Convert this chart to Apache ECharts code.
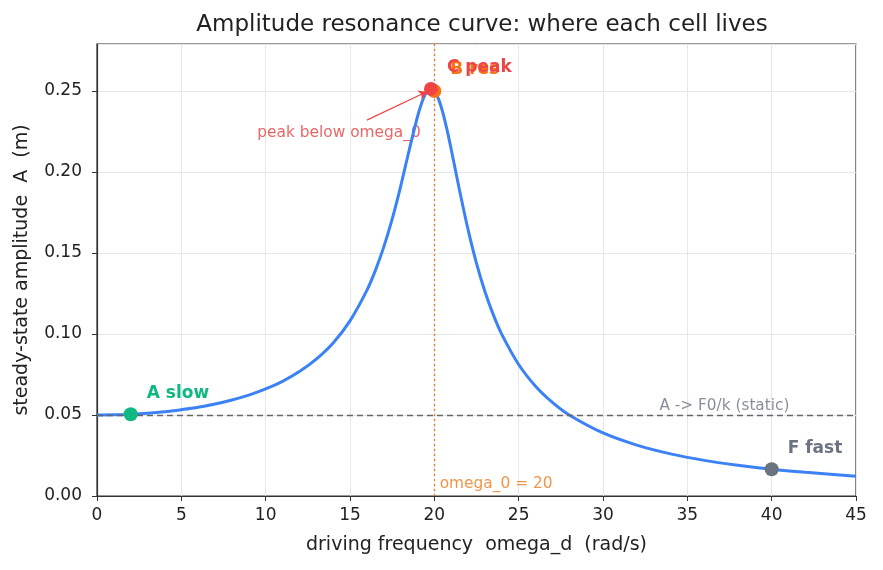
<!DOCTYPE html>
<html>
<head>
<meta charset="utf-8"/>
<title>Amplitude resonance curve</title>
<script src="https://cdn.jsdelivr.net/npm/echarts@6/dist/echarts.min.js"></script>
<style>
  html, body { margin: 0; padding: 0; background: #fff; }
  #chart { width: 883px; height: 570px; }
</style>
</head>
<body>
<div id="chart"></div>
<script>
// driving frequency (rad/s) and steady-state amplitude (m)
var omegaD = [0, 1, 2, 3, 4, 5, 6, 7, 8, 9, 10, 11, 12, 13, 14, 15, 16, 16.5, 17, 17.5, 18, 18.5, 19, 19.25, 19.5, 19.8,
              20, 20.25, 20.5, 20.75, 21, 21.5, 22, 22.5, 23, 23.5, 24, 25, 26, 27, 28, 30, 32, 34, 36, 38, 40, 42, 45];
var amp = [0.0500, 0.0501, 0.0505, 0.0511, 0.0520, 0.0533, 0.0548, 0.0568, 0.0593, 0.0623, 0.0661, 0.0708, 0.0768, 0.0845,
           0.0945, 0.1081, 0.1269, 0.1391, 0.1536, 0.1709, 0.1910, 0.2131, 0.2341, 0.2426, 0.2486, 0.2513,
           0.2500, 0.2450, 0.2368, 0.2261, 0.2140, 0.1884, 0.1644, 0.1436, 0.1262, 0.1118, 0.0998, 0.0812, 0.0678,
           0.0578, 0.0500, 0.0389, 0.0314, 0.0260, 0.0220, 0.0190, 0.0165, 0.0146, 0.0122];

// the marked cells
var cellNames = ['A slow', 'B res', 'C peak', 'F fast'];
var cellX = [2, 20, 19.8, 40];
var cellY = [0.0505, 0.25, 0.2513, 0.0165];
var cellColors = ['#10b981', '#f97316', '#ef4444', '#6b7280'];

var staticLevel = 0.05;
var omega0 = 20;

var chart = echarts.init(document.getElementById('chart'));

var curve = [];
for (var i = 0; i < omegaD.length; i++) curve.push([omegaD[i], amp[i]]);

var cells = [];
for (var j = 0; j < cellNames.length; j++) {
    cells.push({
        value: [cellX[j], cellY[j]],
        name: cellNames[j],
        itemStyle: { color: cellColors[j], opacity: 1 },
        label: { color: cellColors[j] }
    });
}

var font = 'DejaVu Sans, sans-serif';

chart.setOption({
    animation: false,
    textStyle: { fontFamily: font },
    title: {
        text: 'Amplitude resonance curve: where each cell lives',
        left: 477,
        textAlign: 'center',
        top: 9,
        textStyle: { fontSize: 23, fontWeight: 'normal', color: '#222', fontFamily: font }
    },
    grid: {
        left: 97, right: 27, top: 44, bottom: 74,
        show: true, borderColor: '#333', borderWidth: 1.2
    },
    xAxis: {
        type: 'value', min: 0, max: 45, interval: 5,
        name: 'driving frequency  omega_d  (rad/s)',
        nameLocation: 'middle', nameGap: 40,
        nameTextStyle: { fontSize: 19, color: '#222' },
        axisLine: { lineStyle: { color: '#333', width: 1.2 } },
        axisTick: { show: true, length: 5, lineStyle: { color: '#333' } },
        axisLabel: { fontSize: 17, color: '#222', margin: 11 },
        splitLine: { show: true, lineStyle: { color: '#e5e7eb' } }
    },
    yAxis: {
        type: 'value', min: 0, max: 0.279, interval: 0.05,
        name: 'steady-state amplitude  A  (m)',
        nameLocation: 'middle', nameGap: 65,
        nameTextStyle: { fontSize: 19, color: '#222' },
        axisLine: { show: true, lineStyle: { color: '#333', width: 1.2 } },
        axisTick: { show: true, length: 5, lineStyle: { color: '#333' } },
        axisLabel: {
            fontSize: 17, color: '#222', margin: 15,
            formatter: function (v) { return v.toFixed(2); },
            showMaxLabel: false
        },
        splitLine: { show: true, lineStyle: { color: '#e5e7eb' } }
    },
    series: [
        {
            name: 'A(omega_d)',
            type: 'line',
            data: curve,
            smooth: 0.3,
            showSymbol: false,
            lineStyle: { color: '#3b82f6', width: 3 },
            z: 3,
            markLine: {
                silent: true,
                symbol: 'none',
                label: { show: false },
                data: [
                    { yAxis: staticLevel, lineStyle: { color: '#666', type: [6, 4], width: 1.3 } },
                    { xAxis: omega0, lineStyle: { color: '#ea7a1c', type: [2, 3], width: 1.3 } }
                ]
            }
        },
        {
            // arrow for the annotation
            name: 'arrow',
            type: 'line',
            data: [],
            markLine: {
                silent: true,
                symbol: ['none', 'arrow'],
                symbolSize: 8,
                label: { show: false },
                lineStyle: { color: '#ef4444', width: 1.2, type: 'solid' },
                data: [[{ coord: [16.0, 0.232] }, { coord: [19.55, 0.2495] }]]
            }
        },
        {
            name: 'cells',
            type: 'scatter',
            data: cells,
            symbolSize: 14,
            z: 5,
            label: {
                show: true,
                position: 'right',
                offset: [4, -21],
                fontSize: 17,
                fontWeight: 'bold',
                formatter: function (p) { return p.name; }
            }
        },
        {
            name: 'notes',
            type: 'scatter',
            symbolSize: 0,
            silent: true,
            data: [
                { value: [14.35, 0.224], label: { formatter: 'peak below omega_0', color: '#e53e3e', fontSize: 15.4, position: 'inside' } },
                { value: [37.2, 0.0505], label: { formatter: 'A -> F0/k (static)', color: '#6b7280', fontSize: 15.3, position: 'top', distance: 1 } },
                { value: [20.2, 0.0075], label: { formatter: 'omega_0 = 20', color: '#ea7a1c', fontSize: 15.4, position: 'right', distance: 2 } }
            ],
            label: { show: true }
        }
    ]
});
</script>
</body>
</html>
